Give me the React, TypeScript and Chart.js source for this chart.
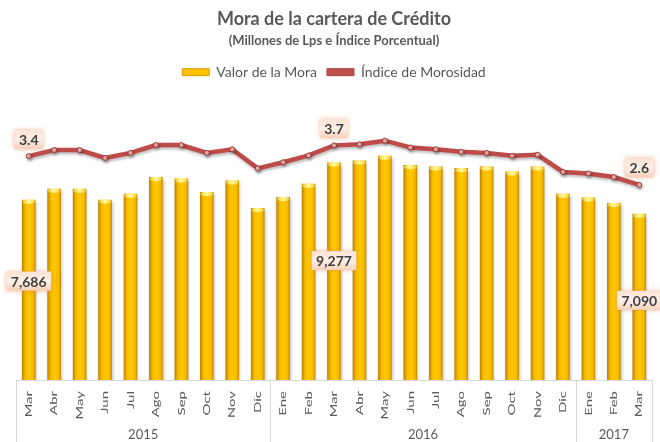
import React, { useEffect, useRef } from "react";
import { Chart, registerables } from "chart.js";

Chart.register(...registerables);

const FONT = "Lato, 'Open Sans', 'DejaVu Sans', sans-serif";
const GRAY = "#595959";

const titleText = "Mora de la cartera de Crédito";
const subtitleText = "(Millones de Lps e Índice Porcentual)";
const seriesNames = ["Valor de la Mora", "Índice de Morosidad"];

const months = [
  "Mar", "Abr", "May", "Jun", "Jul", "Ago", "Sep", "Oct", "Nov", "Dic",
  "Ene", "Feb", "Mar", "Abr", "May", "Jun", "Jul", "Ago", "Sep", "Oct", "Nov", "Dic",
  "Ene", "Feb", "Mar",
];
const yearLabels = ["2015", "2016", "2017"];
const yearMonthCounts = [10, 12, 3];

const moraValues = [
  7686, 8155, 8155, 7690, 7942, 8655, 8596, 8015, 8510, 7331,
  7801, 8369, 9277, 9364, 9565, 9168, 9108, 9040, 9108, 8894, 9108, 7942,
  7784, 7545, 7090,
];
const indiceValues = [
  3.4, 3.57, 3.57, 3.35, 3.49, 3.71, 3.71, 3.49, 3.59, 3.06,
  3.23, 3.42, 3.7, 3.73, 3.83, 3.64, 3.59, 3.52, 3.49, 3.41, 3.44, 2.96,
  2.92, 2.82, 2.6,
];

const labeledIndices = [0, 12, 24];
const moraLabelFractions = [0.55, 0.55, 0.48];

const CHART_TOP_GUESS = 89;
const BAR_PX_PER_UNIT = 180 / 7686;
const LINE_PX_PER_UNIT = 36;

function drawLabelBox(ctx: CanvasRenderingContext2D, text: string, cx: number, cy: number) {
  ctx.save();
  ctx.font = `bold 14px ${FONT}`;
  const w = ctx.measureText(text).width + 9;
  const h = 19;
  ctx.shadowColor = "rgba(225,130,90,0.7)";
  ctx.shadowBlur = 5;
  const g = ctx.createLinearGradient(0, cy - h / 2, 0, cy + h / 2);
  g.addColorStop(0, "#FBE3D4");
  g.addColorStop(0.5, "#FDEFE6");
  g.addColorStop(1, "#F8D0B8");
  ctx.fillStyle = g;
  ctx.fillRect(cx - w / 2, cy - h / 2, w, h);
  ctx.shadowBlur = 0;
  ctx.shadowColor = "transparent";
  ctx.fillStyle = "#404040";
  ctx.textAlign = "center";
  ctx.textBaseline = "middle";
  ctx.fillText(text, cx, cy + 1);
  ctx.restore();
}

const decorPlugin = {
  id: "decor",
  beforeDatasetDraw(chart: any) {
    const ctx = chart.ctx;
    ctx.save();
    ctx.shadowColor = "rgba(0,0,0,0.28)";
    ctx.shadowBlur = 3;
    ctx.shadowOffsetX = 1;
    ctx.shadowOffsetY = 2;
  },
  afterDatasetDraw(chart: any, args: any) {
    const ctx = chart.ctx;
    ctx.restore();
    if (args.index === 0) {
      const meta = chart.getDatasetMeta(0);
      meta.data.forEach((el: any) => {
        const w = el.width;
        const g = ctx.createLinearGradient(el.x - w / 2, 0, el.x + w / 2, 0);
        g.addColorStop(0, "rgba(255,230,110,0.5)");
        g.addColorStop(0.5, "rgba(255,250,160,1)");
        g.addColorStop(1, "rgba(255,230,110,0.5)");
        ctx.save();
        ctx.fillStyle = g;
        ctx.beginPath();
        ctx.ellipse(el.x, el.y + 1.5, w / 2, 2.2, 0, 0, Math.PI * 2);
        ctx.fill();
        ctx.restore();
      });
    }
  },
  afterDatasetsDraw(chart: any) {
    const ctx = chart.ctx;
    const ys = chart.scales.y;
    const barMeta = chart.getDatasetMeta(0);
    const lineMeta = chart.getDatasetMeta(1);
    labeledIndices.forEach((idx, k) => {
      const bar = barMeta.data[idx];
      const yPix = ys.getPixelForValue(moraValues[idx] * moraLabelFractions[k]);
      drawLabelBox(ctx, moraValues[idx].toLocaleString("en-US"), bar.x, yPix);
      const pt = lineMeta.data[idx];
      drawLabelBox(ctx, indiceValues[idx].toFixed(1), pt.x, pt.y - 17);
    });
  },
  afterDraw(chart: any) {
    const ctx = chart.ctx;
    const xs = chart.scales.x;
    const area = chart.chartArea;
    const step = xs.getPixelForValue(1) - xs.getPixelForValue(0);
    ctx.save();
    // month labels (rotated, stretched along the text direction)
    ctx.fillStyle = GRAY;
    ctx.font = `10px ${FONT}`;
    months.forEach((m, i) => {
      const x = xs.getPixelForValue(i);
      ctx.save();
      ctx.translate(x, area.bottom + 11);
      ctx.rotate(-Math.PI / 2);
      ctx.scale(1.5, 1);
      ctx.textAlign = "right";
      ctx.textBaseline = "middle";
      ctx.fillText(m, 0, 0);
      ctx.restore();
    });
    ctx.strokeStyle = "#D9D9D9";
    ctx.lineWidth = 1;
    let start = 0;
    const bounds: number[] = [Math.round(area.left) + 0.5];
    yearLabels.forEach((label, i) => {
      const end = start + yearMonthCounts[i] - 1;
      const right = xs.getPixelForValue(end) + step / 2;
      bounds.push(Math.round(right) + 0.5);
      const cx = (xs.getPixelForValue(start) + xs.getPixelForValue(end)) / 2;
      ctx.fillStyle = GRAY;
      ctx.font = `13px ${FONT}`;
      ctx.textAlign = "center";
      ctx.textBaseline = "middle";
      ctx.fillText(label, cx, area.bottom + 55);
      start = end + 1;
    });
    bounds.forEach((bx) => {
      ctx.beginPath();
      ctx.moveTo(bx, area.bottom);
      ctx.lineTo(bx, chart.height);
      ctx.stroke();
    });
    ctx.restore();
  },
};

export default function App() {
  const canvasRef = useRef<HTMLCanvasElement | null>(null);

  useEffect(() => {
    document.body.style.margin = "0";
    const canvas = canvasRef.current;
    if (!canvas) return;
    const top = CHART_TOP_GUESS;
    const bottom = 380;
    const yMax = (bottom - top) / BAR_PX_PER_UNIT;
    const lineRef = 3.4;
    const lineRefPix = 156;
    const y2Max = lineRef + (lineRefPix - top) / LINE_PX_PER_UNIT;
    const y2Min = lineRef - (bottom - lineRefPix) / LINE_PX_PER_UNIT;

    const chart = new Chart(canvas, {
      type: "bar",
      data: {
        labels: months,
        datasets: [
          {
            type: "bar",
            label: seriesNames[0],
            data: moraValues,
            yAxisID: "y",
            barThickness: 13,
            backgroundColor: (c: any) => {
              const ch = c.chart;
              const xs = ch.scales && ch.scales.x;
              if (!xs || c.dataIndex === undefined || !ch.chartArea) return "#FFC000";
              const x = xs.getPixelForValue(c.dataIndex);
              const g = ch.ctx.createLinearGradient(x - 6.5, 0, x + 6.5, 0);
              g.addColorStop(0, "#C08600");
              g.addColorStop(0.25, "#F8BC00");
              g.addColorStop(0.55, "#FFC800");
              g.addColorStop(0.85, "#F5B800");
              g.addColorStop(1, "#C89000");
              return g;
            },
            borderWidth: 0,
            order: 2,
          } as any,
          {
            type: "line",
            label: seriesNames[1],
            data: indiceValues,
            yAxisID: "y2",
            borderColor: "#BE4B48",
            borderWidth: 4.5,
            pointRadius: 2.5,
            pointBackgroundColor: "#E8B4B0",
            pointBorderColor: "#9E3A38",
            pointBorderWidth: 1,
            tension: 0,
            order: 1,
          } as any,
        ],
      },
      options: {
        responsive: false,
        animation: false,
        layout: { padding: { left: 16, right: 8, top: 0, bottom: 0 } },
        plugins: {
          tooltip: { enabled: false },
          title: {
            display: true,
            text: titleText,
            color: GRAY,
            font: { family: FONT, size: 18, weight: "bold" },
            padding: { top: 8, bottom: 0 },
          },
          subtitle: {
            display: true,
            text: subtitleText,
            color: GRAY,
            font: { family: FONT, size: 13, weight: "bold" },
            padding: { top: 3, bottom: 7 },
          },
          legend: {
            display: true,
            position: "top",
            labels: {
              color: GRAY,
              font: { family: FONT, size: 14 },
              boxWidth: 27,
              boxHeight: 7,
              padding: 10,
              generateLabels: () => [
                {
                  text: seriesNames[0],
                  fillStyle: "#FFC000",
                  strokeStyle: "#D9A000",
                  lineWidth: 1,
                  datasetIndex: 0,
                  hidden: false,
                  fontColor: GRAY,
                },
                {
                  text: seriesNames[1],
                  fillStyle: "#C0504D",
                  strokeStyle: "#A94442",
                  lineWidth: 1,
                  datasetIndex: 1,
                  hidden: false,
                  fontColor: GRAY,
                },
              ],
            },
          },
        },
        scales: {
          x: {
            offset: true,
            grid: { display: false, drawTicks: false },
            border: { display: true, color: "#D9D9D9" },
            ticks: { display: false, autoSkip: false },
            afterFit: (s: any) => {
              s.height = 62;
            },
          },
          y: { display: false, min: 0, max: yMax },
          y2: { display: false, min: y2Min, max: y2Max, position: "right" },
        },
      } as any,
      plugins: [decorPlugin],
    });
    return () => chart.destroy();
  }, []);

  return (
    <div style={{ width: 660, height: 442 }}>
      <canvas ref={canvasRef} width={660} height={442} />
    </div>
  );
}
